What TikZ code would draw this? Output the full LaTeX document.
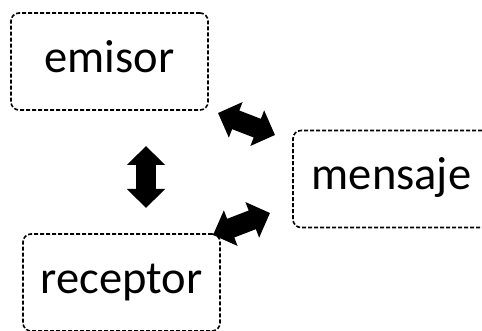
\documentclass[tikz,border=0pt]{standalone}
\usepackage{fontspec}
\setmainfont{Carlito}
\usetikzlibrary{arrows.meta}

\begin{document}
\begin{tikzpicture}[x=1pt, y=-1pt,
  every node/.style = {draw, dashed, dash pattern=on 4pt off 2pt, line width=1.6pt,
    rounded corners=8pt, minimum width=197pt, minimum height=97pt,
    text height=21.5pt, text depth=0pt, font=\fontsize{46.5}{56}\selectfont},
  bigarrow/.style = {line width=20pt,
    {Triangle[width=37pt,length=19pt]}-{Triangle[width=37pt,length=19pt]}}]

\useasboundingbox (0,0) rectangle (482,331);

\node (emisor) at (109.5,61.5) {emisor};
\node (mensaje) at (391.5,179) {mensaje};
\node (receptor) at (121.5,282.5) {receptor};

% tips of the arrows
\coordinate (em1) at (146,146);
\coordinate (re1) at (146,208);
\coordinate (em2) at (218,113);
\coordinate (me2) at (275,135);
\coordinate (re3) at (213,235);
\coordinate (me3) at (270,213);

\draw[bigarrow] (em1) -- (re1);
\draw[bigarrow] (em2) -- (me2);
\draw[bigarrow] (re3) -- (me3);
\end{tikzpicture}
\end{document}
